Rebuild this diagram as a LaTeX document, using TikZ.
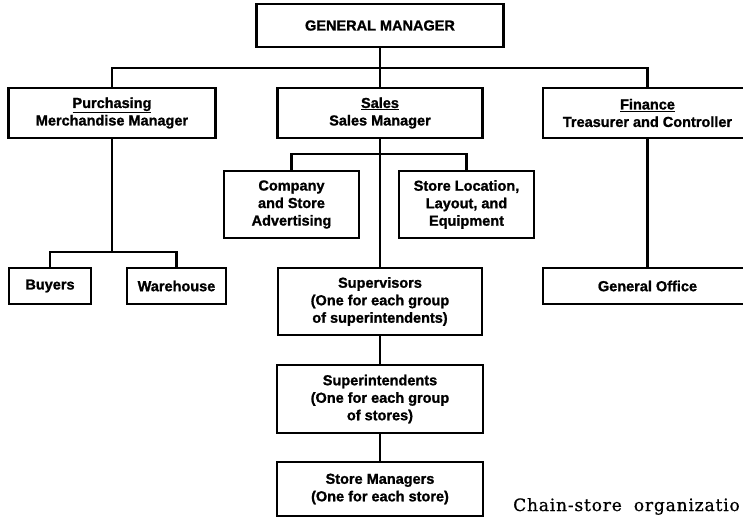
\documentclass[tikz,border=0pt]{standalone}
\usepackage{fontspec}
\setmainfont{Liberation Sans}
\newfontfamily\chartfont{Liberation Sans}[BoldFeatures={FakeBold=1.2}]
\newfontfamily\capfont{DejaVu Serif}[LetterSpace=5, FakeBold=0.8]
\begin{document}
\begin{tikzpicture}[x=1pt,y=-1pt,
  orgbox/.style={draw, line width=2.6pt, align=center, inner sep=0pt,
    font=\chartfont\bfseries\fontsize{14.5}{17.5}\selectfont},
  link/.style={line width=2.6pt}]
\path[use as bounding box, fill=white] (0,0) rectangle (743,518);
\clip (0,0) rectangle (743,518);

% top level
\node[orgbox, minimum width=247pt, minimum height=43pt] (gm) at (380,25.5) {GENERAL MANAGER};

% departments
\node[orgbox, minimum width=207pt, minimum height=50pt] (pur) at (112,113)
  {\underline{Purchasing}\\Merchandise Manager};
\node[orgbox, minimum width=205pt, minimum height=50pt] (sal) at (380,113)
  {\underline{Sales}\\Sales Manager};
\node[orgbox, minimum width=209pt, minimum height=50pt] (fin) at (647.5,113)
  {\underline{Finance}\\Treasurer and Controller};

% sales staff units
\node[orgbox, minimum width=135pt, minimum height=67pt] (adv) at (291.5,204.5)
  {Company\\and Store\\Advertising};
\node[orgbox, minimum width=135pt, minimum height=67pt] (loc) at (466.5,204.5)
  {Store Location,\\Layout, and\\Equipment};

% purchasing units
\node[orgbox, minimum width=82pt, minimum height=36pt] (buy) at (50,286) {Buyers};
\node[orgbox, minimum width=99pt, minimum height=36pt] (whs) at (176.5,286) {Warehouse};

% finance unit
\node[orgbox, minimum width=209pt, minimum height=36pt] (gen) at (647.5,286) {General Office};

% line organisation of the stores
\node[orgbox, minimum width=204pt, minimum height=67pt] (sup) at (380,301.5)
  {Supervisors\\(One for each group\\of superintendents)};
\node[orgbox, minimum width=206pt, minimum height=68pt] (spi) at (380,399)
  {Superintendents\\(One for each group\\of stores)};
\node[orgbox, minimum width=206pt, minimum height=54pt] (stm) at (380,489)
  {Store Managers\\(One for each store)};

% caption
\node[anchor=base west, inner sep=0pt, font=\capfont\fontsize{17}{20}\selectfont] (cap) at (513,511)
  {Chain-store\hspace{12pt}organizatio};

% connectors
\coordinate (busL) at (112,68);
\coordinate (busR) at (647.5,68);
\draw[link] (pur.north) -- (busL) -- (busR) -- (fin.north);
\draw[link] (gm.south) -- (sal.north);

\coordinate (sbus) at (291.5,154);
\draw[link] (adv.north) -- (sbus) -| (loc.north);
\draw[link] (sal.south) -- (sup.north);

\coordinate (pbus) at (50,252);
\draw[link] (pur.south) -- (pur.south |- pbus);
\draw[link] (buy.north) -- (pbus) -| (whs.north);

\draw[link] (fin.south) -- (gen.north);
\draw[link] (sup.south) -- (spi.north);
\draw[link] (spi.south) -- (stm.north);
\end{tikzpicture}
\end{document}
